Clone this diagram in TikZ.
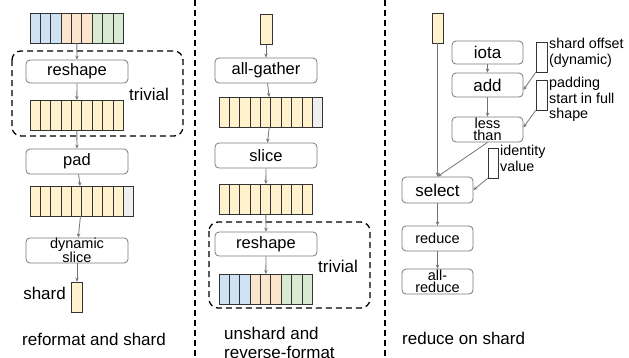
\documentclass[tikz,border=0pt]{standalone}
\usepackage{fontspec}
\setmainfont{Liberation Sans}
\usetikzlibrary{arrows.meta,calc}
\definecolor{cB}{HTML}{CFE2F3}
\definecolor{cO}{HTML}{FCE5CD}
\definecolor{cG}{HTML}{D9EAD3}
\definecolor{cY}{HTML}{FFF2CC}
\definecolor{cW}{HTML}{EFEFEF}
\definecolor{lineg}{HTML}{747474}
\definecolor{boxg}{HTML}{7A7A7A}
\tikzset{
  opbox/.style={draw=boxg, line width=0.8pt, rounded corners=4pt, fill=white, inner sep=0pt, align=center, font=\fontsize{16.5}{16.5}\selectfont},
  smallop/.style={opbox, font=\fontsize{14.5}{12}\selectfont},
  rowbox/.style={anchor=north west, inner sep=0pt, minimum height=30pt},
  cell/.style={draw=black!80, line width=0.6pt},
  shardbox/.style={draw=black!80, line width=0.6pt, fill=cY, inner sep=0pt, minimum width=11pt, minimum height=30pt},
  emptybox/.style={draw=black!80, line width=0.6pt, fill=white, inner sep=0pt, minimum width=11pt, minimum height=30pt},
  conn/.style={draw=lineg, line width=0.8pt, -{Stealth[length=4pt,width=3.5pt]}},
  group/.style={draw=black, line width=1.3pt, dash pattern=on 6pt off 4pt, rounded corners=9pt},
  sep/.style={draw=black, line width=1.4pt, dash pattern=on 6pt off 4pt},
  lbl/.style={inner sep=0pt, font=\fontsize{17}{20}\selectfont},
  note/.style={inner sep=0pt, anchor=north west, align=left, font=\fontsize{14.3}{15.7}\selectfont},
}
\newcommand\cellrow[5]{%
  \node[rowbox, minimum width=#4*10.35pt] (#1) at (#2,#3) {};
  \foreach \c [count=\i from 0] in {#5} {\draw[cell, fill=\c] ([xshift=\i*10.35pt]#1.north west) rectangle ++(10.35,30);}
}
\begin{document}
\begin{tikzpicture}[x=1pt,y=-1pt]
\useasboundingbox (0,0) rectangle (629,357);
% separators
\coordinate (s1t) at (195,0); \coordinate (s1b) at (195,357);
\coordinate (s2t) at (385,0); \coordinate (s2b) at (385,357);
\draw[sep] (s1t) -- (s1b);
\draw[sep] (s2t) -- (s2b);

% ---------- left column ----------
\draw[group] (12,51) rectangle (183,136);
\cellrow{La}{30}{13}{9}{cB,cB,cB,cO,cO,cO,cG,cG,cG}
\node[opbox, minimum width=102pt, minimum height=23pt] (Lreshape) at (77,71.5) {reshape};
\cellrow{Lb}{30}{100}{9}{cY,cY,cY,cY,cY,cY,cY,cY,cY}
\node[lbl] (Ltriv) at (149,94) {trivial};
\node[opbox, minimum width=102pt, minimum height=25pt] (Lpad) at (77,161.5) {pad};
\cellrow{Lc}{30}{186}{10}{cY,cY,cY,cY,cY,cY,cY,cY,cY,cW}
\node[smallop, minimum width=102pt, minimum height=25pt] (Ldyn) at (77,250.5) {dynamic\\slice};
\node[shardbox] (Lshard) at (77,297) {};
\node[lbl, anchor=east] (Lshl) at (66,293) {shard};
\node[lbl, anchor=west] (Lcap) at (22,339) {reformat and shard};
\draw[conn] (La) -- (Lreshape);
\draw[conn] (Lreshape) -- (Lb);
\draw[conn] (Lb) -- (Lpad);
\draw[conn] (Lpad) -- (Lc);
\draw[conn] (Lc) -- (Ldyn);
\draw[conn] (Ldyn) -- (Lshard);

% ---------- middle column ----------
\draw[group] (209,222) rectangle (370,308);
\node[shardbox, minimum width=12pt] (Mshard) at (266,29.5) {};
\node[opbox, minimum width=102pt, minimum height=25pt] (Mgather) at (266,70.5) {all-gather};
\cellrow{Ma}{219}{97}{10}{cY,cY,cY,cY,cY,cY,cY,cY,cY,cW}
\node[opbox, minimum width=102pt, minimum height=25pt] (Mslice) at (266,155.5) {slice};
\cellrow{Mb}{219}{184}{9}{cY,cY,cY,cY,cY,cY,cY,cY,cY}
\node[opbox, minimum width=102pt, minimum height=24pt] (Mreshape) at (266,244) {reshape};
\cellrow{Mc}{219}{274}{9}{cB,cB,cB,cO,cO,cO,cG,cG,cG}
\node[lbl] (Mtriv) at (338,266) {trivial};
\node[lbl, anchor=west] (Mcap1) at (224,333) {unshard and};
\node[lbl, anchor=west] (Mcap2) at (224,352) {reverse-format};
\draw[conn] (Mshard) -- (Mgather);
\draw[conn] (Mgather) -- (Ma);
\draw[conn] (Ma) -- (Mslice);
\draw[conn] (Mslice) -- (Mb);
\draw[conn] (Mb) -- (Mreshape);
\draw[conn] (Mreshape) -- (Mc);

% ---------- right column ----------
\node[shardbox] (Rshard) at (437.5,28) {};
\node[opbox, font=\fontsize{17}{17}\selectfont, minimum width=71pt, minimum height=23pt] (Riota) at (487.5,52.5) {iota};
\node[opbox, font=\fontsize{17}{17}\selectfont, minimum width=71pt, minimum height=24pt] (Radd) at (487.5,85) {add};
\node[smallop, minimum width=71pt, minimum height=25pt] (Rless) at (487.5,129.5) {less\\than};
\node[emptybox] (Roff) at (541.5,57) {};
\node[emptybox] (Rpadst) at (541.5,95) {};
\node[emptybox, minimum width=10pt] (Rid) at (493,163) {};
\node[note] (Roffl) at (549,38) {shard offset\\(dynamic)};
\node[note] (Rpadl) at (549,77) {padding\\start in full\\shape};
\node[note] (Ridl) at (500,145) {identity\\value};
\node[opbox, font=\fontsize{17}{17}\selectfont, minimum width=71pt, minimum height=26pt] (Rselect) at (437.5,190) {select};
\node[smallop, minimum width=71pt, minimum height=25pt] (Rreduce) at (437.5,238.5) {reduce};
\node[smallop, minimum width=71pt, minimum height=25pt] (Rall) at (437.5,281.5) {all-\\reduce};
\node[lbl, anchor=west] (Rcap) at (402,338) {reduce on shard};
\draw[conn] (Rshard) -- (Rselect);
\draw[conn] (Riota) -- (Radd);
\draw[conn] (Radd) -- (Rless);
\draw[conn] (Roff.south west) -- ([yshift=-5pt]Radd.east);
\draw[conn] (Rpadst.south west) -- ([yshift=2pt]Rless.east);
\draw[conn] (Rless.south) -- (Rselect.north);
\draw[conn] (Rid.south west) -- (Rselect.east);
\draw[conn] (Rselect) -- (Rreduce);
\draw[conn] (Rreduce) -- (Rall);
\end{tikzpicture}
\end{document}
